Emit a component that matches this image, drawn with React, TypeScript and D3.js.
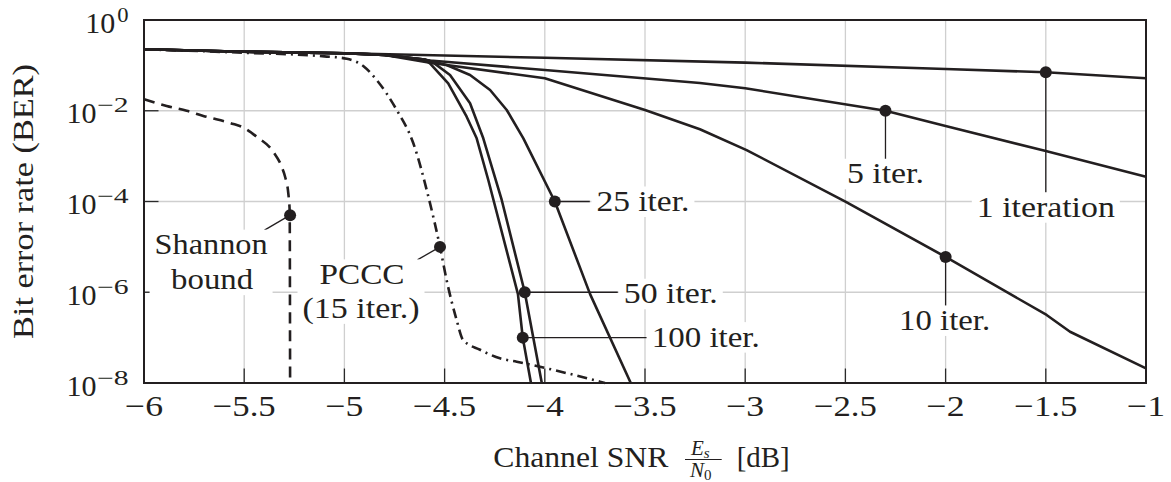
import React from 'react';
import * as d3 from 'd3';

type Pt = [number, number];

// ---------- axis ticks ----------
const snrTicks = [-6, -5.5, -5, -4.5, -4, -3.5, -3, -2.5, -2, -1.5, -1];
const snrTickLabels = ['−6', '−5.5', '−5', '−4.5', '−4', '−3.5', '−3', '−2.5', '−2', '−1.5', '−1'];
const berTickExponents = [0, -2, -4, -6, -8];
const berTickLabels = ['0', '−2', '−4', '−6', '−8'];

// ---------- series (SNR dB, BER) ----------
const iter1: Pt[] = [[-6, 0.226], [-5.5, 0.2], [-5, 0.185], [-4.5, 0.165], [-4, 0.147], [-3, 0.115], [-2, 0.083], [-1.5, 0.0706], [-1, 0.052]];
const iter5: Pt[] = [[-6, 0.226], [-5.5, 0.2], [-5, 0.185], [-4.8, 0.17], [-4.573, 0.128], [-4, 0.079], [-3.226, 0.041], [-3, 0.0313], [-2.3, 0.01], [-2, 0.0046], [-1.5, 0.0013], [-1, 0.00035]];
const iter10: Pt[] = [[-6, 0.226], [-5.5, 0.2], [-5, 0.185], [-4.8, 0.17], [-4.573, 0.1145], [-4, 0.0519], [-3.5, 0.0104], [-3.226, 0.0039], [-2.993, 0.00136], [-2.5, 9.9e-5], [-2, 6e-6], [-1.496, 3.16e-7], [-1.379, 1.35e-7], [-1, 2.1e-8]];
const iter25: Pt[] = [[-6, 0.226], [-5.5, 0.2], [-5, 0.185], [-4.8, 0.17], [-4.6, 0.135], [-4.49, 0.102], [-4.373, 0.0614], [-4.273, 0.0287], [-4.19, 0.0104], [-4.107, 0.00247], [-3.95, 1e-4], [-3.774, 9.1e-7], [-3.571, 1e-8]];
const iter50: Pt[] = [[-6, 0.226], [-5.5, 0.2], [-5, 0.185], [-4.8, 0.17], [-4.6, 0.135], [-4.556, 0.115], [-4.473, 0.0614], [-4.373, 0.0146], [-4.307, 0.00247], [-4.215, 1.08e-4], [-4.1, 1e-6], [-4.015, 1e-8]];
const iter100: Pt[] = [[-6, 0.226], [-5.5, 0.2], [-5, 0.185], [-4.8, 0.17], [-4.6, 0.135], [-4.573, 0.111], [-4.482, 0.0403], [-4.39, 0.0074], [-4.34, 0.00247], [-4.282, 2.98e-4], [-4.134, 9.1e-7], [-4.11, 1e-7], [-4.069, 1e-8]];
const pccc15: Pt[] = [[-6, 0.226], [-5.505, 0.19], [-5.1, 0.158], [-4.988, 0.14], [-4.906, 0.097], [-4.839, 0.0476], [-4.739, 0.0104], [-4.656, 0.00192], [-4.581, 1.28e-4], [-4.523, 1e-5], [-4.49, 1.86e-6], [-4.44, 2.45e-7], [-4.408, 8.9e-8], [-4.323, 5.4e-8], [-4.224, 3.5e-8], [-4.14, 2.95e-8], [-3.725, 1.07e-8], [-3.7, 1e-8]];
const shannon: Pt[] = [[-6, 0.0179], [-5.887, 0.0127], [-5.787, 0.01], [-5.704, 0.0077], [-5.554, 0.0051], [-5.506, 0.0043], [-5.438, 0.00268], [-5.355, 0.00125], [-5.313, 5.85e-4], [-5.296, 3.5e-4], [-5.28, 1.52e-4], [-5.273, 6e-5], [-5.271, 1e-8]];

// ---------- marked points ----------
const markerNames = ['1 iteration', '5 iter.', '10 iter.', '25 iter.', '50 iter.', '100 iter.', 'PCCC', 'Shannon'];
const markerPoints: Pt[] = [[-1.5, 0.0706], [-2.3, 0.01], [-2, 6e-6], [-3.95, 1e-4], [-4.1, 1e-6], [-4.11, 1e-7], [-4.523, 1e-5], [-5.271, 5e-5]];

// ---------- styling / layout ----------
const INK = '#231f20';
const FONT = 'Liberation Serif';
const FS = 30;

const seriesDefs = [
  { data: iter1, dash: undefined as string | undefined, smooth: false },
  { data: iter5, dash: undefined, smooth: false },
  { data: iter10, dash: undefined, smooth: false },
  { data: iter25, dash: undefined, smooth: false },
  { data: iter50, dash: undefined, smooth: false },
  { data: iter100, dash: undefined, smooth: false },
  { data: pccc15, dash: '10,5,2,5', smooth: true },
  { data: shannon, dash: '11,7', smooth: true },
];

// label layout (pixel offsets relative to the marker)
type Ann = { lead: [number, number]; lines: { t: string; dx: number; dy: number; w: number; anchor: 'start' | 'middle' }[] };
const annLayout: Ann[] = [
  { lead: [0, 121], lines: [{ t: '1 iteration', dx: 0, dy: 144.5, w: 138, anchor: 'middle' }] },
  { lead: [0, 49], lines: [{ t: '5 iter.', dx: 0, dy: 72.5, w: 77, anchor: 'middle' }] },
  { lead: [0, 50], lines: [{ t: '10 iter.', dx: -1, dy: 73, w: 91, anchor: 'middle' }] },
  { lead: [35, 0], lines: [{ t: '25 iter.', dx: 41.6, dy: 9.5, w: 93, anchor: 'start' }] },
  { lead: [93, 0], lines: [{ t: '50 iter.', dx: 99, dy: 11, w: 94, anchor: 'start' }] },
  { lead: [124, 0], lines: [{ t: '100 iter.', dx: 129, dy: 9, w: 108, anchor: 'start' }] },
  { lead: [-22.6, 13], lines: [{ t: 'PCCC', dx: -78, dy: 37, w: 85, anchor: 'middle' }, { t: '(15 iter.)', dx: -79, dy: 71, w: 117, anchor: 'middle' }] },
  { lead: [-25.6, 15], lines: [{ t: 'Shannon', dx: -79, dy: 39, w: 113, anchor: 'middle' }, { t: 'bound', dx: -78, dy: 74, w: 82, anchor: 'middle' }] },
];

export default function App() {
  const x = d3.scaleLinear().domain([-6, -1]).range([144, 1146]);
  const y = d3.scaleLog().domain([1, 1e-8]).range([20, 383]);
  const [x0, x1] = x.range();
  const [y0, y1] = y.range();

  const lin = d3.line<Pt>().x(d => x(d[0])).y(d => y(d[1]));
  const smooth = d3.line<Pt>().x(d => x(d[0])).y(d => y(d[1])).curve(d3.curveMonotoneX);

  const tickLen = 14.5;
  const txt = { fontFamily: FONT } as React.CSSProperties;

  return (
    <svg width={1171} height={482} style={{ position: 'absolute', left: 0, top: 0, background: '#fff', fontFamily: FONT }}>
      <rect x={0} y={0} width={1171} height={482} fill="#fff" />
      {/* grid */}
      <g stroke="#cfcfcf" strokeWidth={1.3}>
        {snrTicks.map(t => (
          <line key={'gx' + t} x1={x(t)} x2={x(t)} y1={y0} y2={y1} />
        ))}
        {berTickExponents.map(e => (
          <line key={'gy' + e} x1={x0} x2={x1} y1={y(Math.pow(10, e))} y2={y(Math.pow(10, e))} />
        ))}
      </g>
      {/* ticks */}
      <g stroke="#2a2a2a" strokeWidth={1.3}>
        {snrTicks.map(t => (
          <line key={'tx' + t} x1={x(t)} x2={x(t)} y1={y1} y2={y1 - tickLen} />
        ))}
        {berTickExponents.map(e => (
          <line key={'ty' + e} x1={x0} x2={x0 + tickLen} y1={y(Math.pow(10, e))} y2={y(Math.pow(10, e))} />
        ))}
      </g>
      {/* curves */}
      <g fill="none" stroke={INK} strokeWidth={2.6} strokeLinejoin="round">
        {seriesDefs.map((s, i) => (
          <path key={'s' + i} d={(s.smooth ? smooth : lin)(s.data) || ''} strokeDasharray={s.dash} />
        ))}
      </g>
      {/* annotations */}
      {markerPoints.map((p, i) => {
        const mx = x(p[0]);
        const my = y(p[1]);
        const a = annLayout[i];
        let left = Infinity, right = -Infinity;
        a.lines.forEach(l => {
          const lx = mx + l.dx;
          const L = l.anchor === 'middle' ? lx - l.w / 2 : lx;
          left = Math.min(left, L);
          right = Math.max(right, L + l.w);
        });
        const top = my + a.lines[0].dy - 24.5;
        const bottom = my + a.lines[a.lines.length - 1].dy + 6;
        return (
          <g key={'a' + i}>
            <line x1={mx} y1={my} x2={mx + a.lead[0]} y2={my + a.lead[1]} stroke={INK} strokeWidth={1.3} />
            <rect x={left - 5} y={top} width={right - left + 10} height={bottom - top} fill="#fff" />
            {a.lines.map((l, j) => (
              <text key={j} x={mx + l.dx} y={my + l.dy} fontSize={FS} fill={INK} textAnchor={l.anchor} style={txt}
                textLength={l.w} lengthAdjust="spacingAndGlyphs">{l.t}</text>
            ))}
            <circle cx={mx} cy={my} r={6} fill={INK} />
            <title>{markerNames[i]}</title>
          </g>
        );
      })}
      {/* frame */}
      <rect x={x0} y={y0} width={x1 - x0} height={y1 - y0} fill="none" stroke={INK} strokeWidth={2} />
      {/* x tick labels */}
      {snrTicks.map((t, i) => (
        <text key={'lx' + t} x={x(t)} y={416} fontSize={FS} fill={INK} textAnchor="middle" style={txt}
          textLength={snrTickLabels[i].length > 2 ? 63 : 38} lengthAdjust="spacingAndGlyphs">{snrTickLabels[i]}</text>
      ))}
      {/* y tick labels */}
      {berTickExponents.map((e, i) => {
        const ty = y(Math.pow(10, e));
        const sup = berTickLabels[i];
        const supW = sup.length > 1 ? 31.5 : 11.3;
        const supStart = 128.5 - supW;
        const tenEnd = supStart - (sup.length > 1 ? 0.5 : 2);
        return (
          <g key={'ly' + e} fill={INK}>
            <text x={tenEnd - 30} y={ty + 12.5} fontSize={FS} style={txt} textLength={30} lengthAdjust="spacingAndGlyphs">10</text>
            <text x={supStart} y={ty + 1.5} fontSize={21} style={txt} textLength={supW} lengthAdjust="spacingAndGlyphs">{sup}</text>
          </g>
        );
      })}
      {/* axis titles */}
      <text transform={`translate(33,${(y0 + y1) / 2}) rotate(-90)`} fontSize={FS} fill={INK} textAnchor="middle" style={txt}
        textLength={275} lengthAdjust="spacingAndGlyphs">Bit error rate (BER)</text>
      <g fill={INK}>
        <text x={493.3} y={467} fontSize={FS} style={txt} textLength={175} lengthAdjust="spacingAndGlyphs">Channel SNR</text>
        <line x1={685} x2={721.7} y1={459.5} y2={459.5} stroke={INK} strokeWidth={1.2} />
        <text x={691} y={455} fontSize={21} fontStyle="italic" style={txt}>E<tspan fontSize={15} dy={3}>s</tspan></text>
        <text x={690} y={477} fontSize={21} fontStyle="italic" style={txt}>N<tspan fontSize={15} dy={3} fontStyle="normal">0</tspan></text>
        <text x={736.7} y={467} fontSize={FS} style={txt} textLength={53} lengthAdjust="spacingAndGlyphs">[dB]</text>
      </g>
    </svg>
  );
}
